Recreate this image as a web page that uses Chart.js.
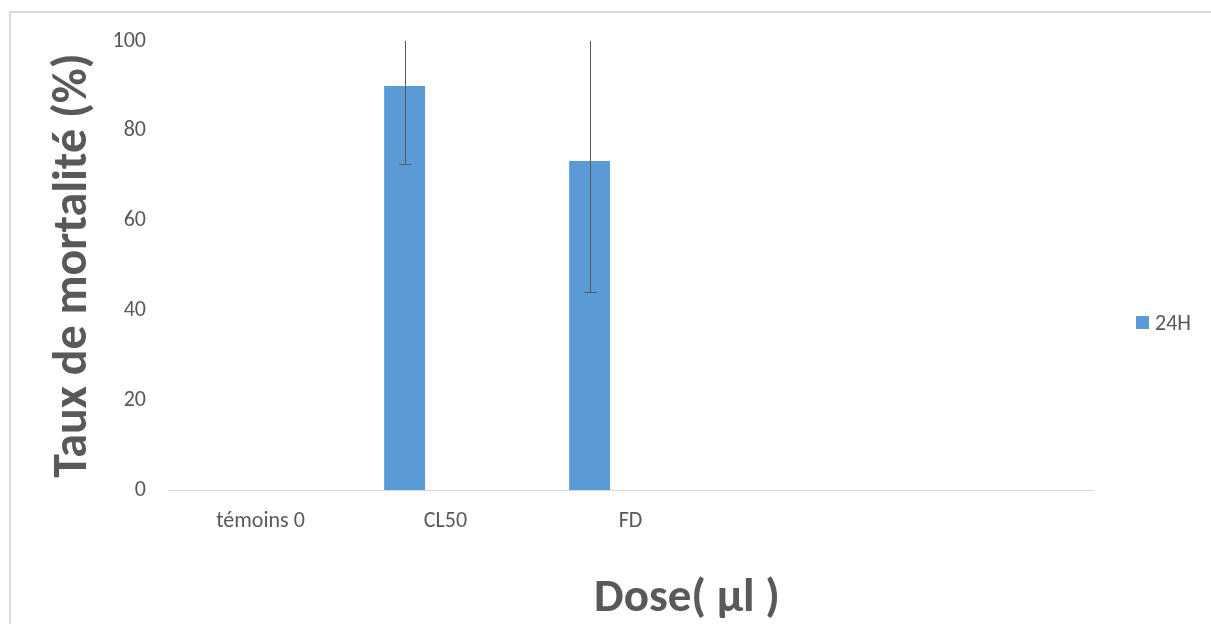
<!DOCTYPE html>
<html>
<head>
<meta charset="utf-8">
<script src="https://cdn.jsdelivr.net/npm/chart.js@4.4.1/dist/chart.umd.min.js"></script>
<style>
    html, body { margin: 0; padding: 0; background: #fff; }
    #wrap { position: relative; width: 1211px; height: 624px; overflow: hidden; }
    #frame { position: absolute; left: 9px; top: 11px; width: 1400px; height: 800px; border: 2px solid #d9d9d9; box-sizing: border-box; }
    #chart { position: absolute; left: 0; top: 0; }
    #legend { position: absolute; left: 1136px; top: 309px; font: 22px Carlito, Lato, sans-serif; color: #595959; }
    .item { display: flex; align-items: center; }
    .box { width: 13px; height: 13px; margin-right: 6px; }
</style>
</head>
<body>
<div id="wrap">
    <div id="frame"></div>
    <canvas id="chart" width="1211" height="624"></canvas>
    <div id="legend"></div>
</div>
<script>
const categories = ['témoins 0', 'CL50', 'FD', '', ''];
const seriesNames = ['24H', '', ''];
const values24 = [0, 90, 73.3, null, null];
const errors24 = [0, 17.3, 29.3, null, null];
const valuesB = [null, null, null, null, null];
const valuesC = [null, null, null, null, null];
const yTicks = [0, 20, 40, 60, 80, 100];
const xTitle = 'Dose( µl )';

const FONT = 'Carlito, Lato, sans-serif';
const GREY = '#595959';
const BLUE = '#5b9bd5';

// error bars drawn through the scales, clipped to the plot area like Excel
const errorBars = {
    id: 'errorBars',
    afterDatasetsDraw(chart) {
        const { ctx, chartArea } = chart;
        const meta = chart.getDatasetMeta(0);
        const y = chart.scales.y;
        ctx.save();
        ctx.beginPath();
        ctx.rect(chartArea.left, chartArea.top, chartArea.right - chartArea.left, chartArea.bottom - chartArea.top);
        ctx.clip();
        ctx.strokeStyle = GREY;
        ctx.lineWidth = 1;
        meta.data.forEach((bar, i) => {
            const v = values24[i];
            const e = errors24[i];
            if (v == null || !e) return;
            const x = Math.round(bar.x) + 0.5;
            const top = y.getPixelForValue(v + e);
            const bot = y.getPixelForValue(v - e);
            ctx.beginPath();
            ctx.moveTo(x, top);
            ctx.lineTo(x, bot);
            [top, bot].forEach(p => {
                ctx.moveTo(x - 6, Math.round(p) + 0.5);
                ctx.lineTo(x + 6, Math.round(p) + 0.5);
            });
            ctx.stroke();
        });
        ctx.restore();
    }
};

// x title centred on the whole chart, as Excel does, not on the plot
const xTitlePlugin = {
    id: 'xTitle',
    afterDraw(chart) {
        const ctx = chart.ctx;
        ctx.save();
        ctx.font = 'bold 47px ' + FONT;
        ctx.fillStyle = GREY;
        ctx.textAlign = 'center';
        ctx.textBaseline = 'alphabetic';
        ctx.fillText(xTitle, 687, 611);
        ctx.restore();
    }
};

const chart = new Chart(document.getElementById('chart'), {
    type: 'bar',
    data: {
        labels: categories,
        datasets: [
            { label: seriesNames[0], data: values24, backgroundColor: BLUE },
            { label: seriesNames[1], data: valuesB, backgroundColor: '#ed7d31' },
            { label: seriesNames[2], data: valuesC, backgroundColor: '#a5a5a5' }
        ]
    },
    options: {
        responsive: false,
        animation: false,
        categoryPercentage: 0.6634,
        barPercentage: 1,
        layout: { padding: { left: 0, right: 118, top: 41, bottom: 0 } },
        plugins: {
            legend: { display: false },
            tooltip: { enabled: false }
        },
        scales: {
            x: {
                grid: { display: false, drawTicks: false },
                border: { display: true, color: '#d9d9d9', width: 1 },
                ticks: { color: GREY, font: { family: FONT, size: 22 }, padding: 18, maxRotation: 0, autoSkip: false },
                afterFit: (scale) => { scale.height = 134; }
            },
            y: {
                min: 0,
                max: 100,
                afterBuildTicks: (scale) => { scale.ticks = yTicks.map(v => ({ value: v })); },
                grid: { display: false, drawTicks: false },
                border: { display: false },
                ticks: { color: GREY, font: { family: FONT, size: 22 }, padding: 22 },
                title: {
                    display: true,
                    text: 'Taux de mortalité (%)',
                    color: GREY,
                    font: { family: FONT, size: 48, weight: 'bold' },
                    padding: { top: 45, bottom: 0 }
                },
                afterFit: (scale) => { scale.width = 168; }
            }
        }
    },
    plugins: [errorBars, xTitlePlugin]
});

// html legend from the dataset labels
const legend = document.getElementById('legend');
chart.data.datasets.forEach(ds => {
    if (!ds.label) return;
    const item = document.createElement('div');
    item.className = 'item';
    const box = document.createElement('span');
    box.className = 'box';
    box.style.background = ds.backgroundColor;
    const txt = document.createElement('span');
    txt.innerText = ds.label;
    item.appendChild(box);
    item.appendChild(txt);
    legend.appendChild(item);
});
</script>
</body>
</html>
